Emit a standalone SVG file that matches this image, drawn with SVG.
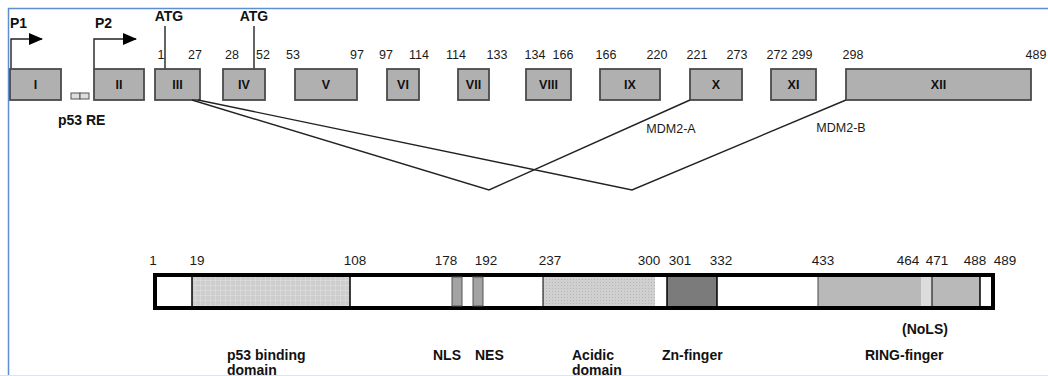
<svg xmlns="http://www.w3.org/2000/svg" width="1048" height="376" viewBox="0 0 1048 376">
<defs>
<style>
.ex{fill:#b0b0b0;stroke:#4a4a4a;stroke-width:1.8}
.rn{font-family:"Liberation Sans",Arial,sans-serif;font-weight:bold;font-size:12.5px;fill:#111;text-anchor:middle}
.num{font-family:"Liberation Sans",Arial,sans-serif;font-size:12.5px;fill:#1a1a1a;text-anchor:middle}
.pn{font-family:"Liberation Sans",Arial,sans-serif;font-size:13.5px;fill:#1a1a1a;text-anchor:middle}
.lbl{font-family:"Liberation Sans",Arial,sans-serif;font-weight:bold;font-size:14px;fill:#111}
.ln{fill:none;stroke:#222;stroke-width:1.4}
</style>
<pattern id="grid" width="5" height="5" patternUnits="userSpaceOnUse">
<rect width="5" height="5" fill="#cdcdcd"/>
<path d="M0 0H5M0 0V5" stroke="#e4e4e4" stroke-width="1"/>
</pattern>
<pattern id="stip" width="3" height="3" patternUnits="userSpaceOnUse">
<rect width="3" height="3" fill="#d0d0d0"/>
<rect width="1" height="1" fill="#b5b5b5"/>
</pattern>
<marker id="ah" viewBox="0 0 14 12" refX="13" refY="6" markerWidth="14" markerHeight="12" markerUnits="userSpaceOnUse" orient="auto">
<path d="M0 0L14 6L0 12Z" fill="#000"/>
</marker>
</defs>
<rect x="0" y="0" width="1048" height="376" fill="#fff"/>
<path d="M8.5 376V8.5H1048" fill="none" stroke="#5b8fd1" stroke-width="1.5"/>
<line x1="0" y1="375.5" x2="1048" y2="375.5" stroke="#dde3ee" stroke-width="1"/>

<g id="promoters">
<text class="lbl" x="10" y="28" font-size="13">P1</text>
<path class="ln" d="M11 69V39H42" marker-end="url(#ah)" stroke="#000"/>
<text class="lbl" x="95" y="28" font-size="13">P2</text>
<path class="ln" d="M94 69V39H136" marker-end="url(#ah)" stroke="#000"/>
</g>

<g id="atg">
<text class="lbl" x="169" y="21" font-size="13" text-anchor="middle">ATG</text>
<line class="ln" x1="165" y1="26" x2="165" y2="69"/>
<text class="lbl" x="254" y="21" font-size="13" text-anchor="middle">ATG</text>
<line class="ln" x1="254" y1="26" x2="254" y2="69"/>
</g>

<g id="p53re">
<rect x="71" y="93" width="9" height="6" fill="#ddd" stroke="#555" stroke-width="1"/>
<rect x="80" y="93" width="9" height="6" fill="#ddd" stroke="#555" stroke-width="1"/>
<text class="lbl" x="58" y="125" font-size="13.5">p53 RE</text>
</g>

<g id="exons">
<g id="exI"><rect class="ex" x="10" y="69" width="51" height="31"/><text class="rn" x="35.5" y="89">I</text></g>
<g id="exII"><rect class="ex" x="94" y="69" width="50" height="31"/><text class="rn" x="119" y="89">II</text></g>
<g id="exIII"><rect class="ex" x="155" y="69" width="45" height="31"/><text class="rn" x="177.5" y="89">III</text></g>
<g id="exIV"><rect class="ex" x="223" y="69" width="42" height="31"/><text class="rn" x="244" y="89">IV</text></g>
<g id="exV"><rect class="ex" x="295" y="69" width="62" height="31"/><text class="rn" x="326" y="89">V</text></g>
<g id="exVI"><rect class="ex" x="387" y="69" width="32" height="31"/><text class="rn" x="403" y="89">VI</text></g>
<g id="exVII"><rect class="ex" x="458" y="69" width="31" height="31"/><text class="rn" x="473.5" y="89">VII</text></g>
<g id="exVIII"><rect class="ex" x="526" y="69" width="45" height="31"/><text class="rn" x="548.5" y="89">VIII</text></g>
<g id="exIX"><rect class="ex" x="600" y="69" width="60" height="31"/><text class="rn" x="630" y="89">IX</text></g>
<g id="exX"><rect class="ex" x="690" y="69" width="52" height="31"/><text class="rn" x="716" y="89">X</text></g>
<g id="exXI"><rect class="ex" x="771" y="69" width="45" height="31"/><text class="rn" x="793.5" y="89">XI</text></g>
<g id="exXII"><rect class="ex" x="846" y="69" width="185" height="31"/><text class="rn" x="938.5" y="89">XII</text></g>
</g>

<g id="exon-numbers">
<text class="num" x="161" y="59">1</text>
<text class="num" x="195" y="59">27</text>
<text class="num" x="232" y="59">28</text>
<text class="num" x="263" y="59">52</text>
<text class="num" x="293" y="59">53</text>
<text class="num" x="357" y="59">97</text>
<text class="num" x="386" y="59">97</text>
<text class="num" x="419" y="59">114</text>
<text class="num" x="456" y="59">114</text>
<text class="num" x="497" y="59">133</text>
<text class="num" x="535" y="59">134</text>
<text class="num" x="563" y="59">166</text>
<text class="num" x="606" y="59">166</text>
<text class="num" x="657" y="59">220</text>
<text class="num" x="697" y="59">221</text>
<text class="num" x="737" y="59">273</text>
<text class="num" x="777" y="59">272</text>
<text class="num" x="802" y="59">299</text>
<text class="num" x="853" y="59">298</text>
<text class="num" x="1036" y="59">489</text>
</g>

<g id="connectors">
<path class="ln" d="M192 100L489 190L690 100"/>
<path class="ln" d="M198 100L632 190L846 100"/>
</g>
<g id="splice-labels">
<text class="num" x="671" y="133" font-size="12">MDM2-A</text>
<text class="num" x="841" y="132" font-size="12">MDM2-B</text>
</g>

<g id="protein">
<rect x="153" y="273" width="842" height="37" fill="#000"/>
<rect x="157" y="277" width="834" height="29" fill="#fff"/>
<rect x="192" y="277" width="158" height="29" fill="url(#grid)"/>
<line x1="192" y1="277" x2="192" y2="306" stroke="#000" stroke-width="1.5"/>
<line x1="350" y1="277" x2="350" y2="306" stroke="#000" stroke-width="1.5"/>
<rect x="452" y="277" width="10" height="29" fill="#a3a3a3" stroke="#555" stroke-width="1"/>
<rect x="473" y="277" width="10" height="29" fill="#a3a3a3" stroke="#555" stroke-width="1"/>
<rect x="543" y="277" width="112" height="29" fill="url(#stip)"/>
<line x1="543" y1="277" x2="543" y2="306" stroke="#000" stroke-width="1"/>
<rect x="667" y="277" width="50" height="29" fill="#7b7b7b"/>
<line x1="667" y1="277" x2="667" y2="306" stroke="#000" stroke-width="1.5"/>
<line x1="717" y1="277" x2="717" y2="306" stroke="#000" stroke-width="1.5"/>
<rect x="818" y="277" width="162" height="29" fill="#b9b9b9"/>
<line x1="818" y1="277" x2="818" y2="306" stroke="#444" stroke-width="1"/>
<rect x="921" y="277" width="11" height="29" fill="#dcdcdc"/>
<line x1="932" y1="277" x2="932" y2="306" stroke="#444" stroke-width="1.5"/>
<line x1="980" y1="277" x2="980" y2="306" stroke="#000" stroke-width="1.5"/>
</g>

<g id="protein-numbers">
<text class="pn" x="153" y="265">1</text>
<text class="pn" x="197" y="265">19</text>
<text class="pn" x="355" y="265">108</text>
<text class="pn" x="446" y="265">178</text>
<text class="pn" x="486" y="265">192</text>
<text class="pn" x="550" y="265">237</text>
<text class="pn" x="649" y="265">300</text>
<text class="pn" x="680" y="265">301</text>
<text class="pn" x="721" y="265">332</text>
<text class="pn" x="823" y="265">433</text>
<text class="pn" x="908" y="265">464</text>
<text class="pn" x="937" y="265">471</text>
<text class="pn" x="975" y="265">488</text>
<text class="pn" x="1005" y="265">489</text>
</g>

<g id="domain-labels">
<text class="lbl" x="902" y="334">(NoLS)</text>
<text class="lbl" x="227" y="360">p53 binding</text>
<text class="lbl" x="227" y="375">domain</text>
<text class="lbl" x="433" y="360">NLS</text>
<text class="lbl" x="475" y="360">NES</text>
<text class="lbl" x="572" y="360">Acidic</text>
<text class="lbl" x="572" y="375">domain</text>
<text class="lbl" x="662" y="360">Zn-finger</text>
<text class="lbl" x="865" y="360">RING-finger</text>
</g>
</svg>
